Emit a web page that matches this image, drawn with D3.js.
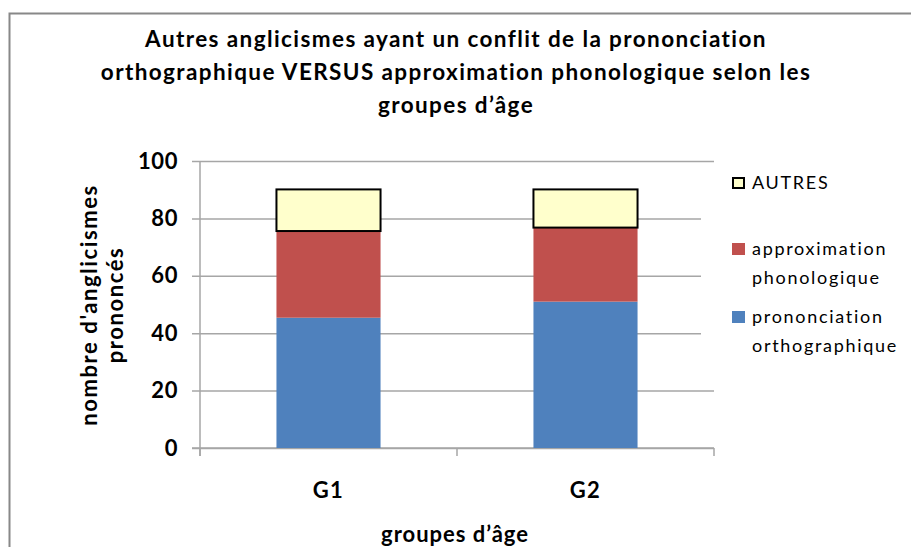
<!DOCTYPE html>
<html>
<head>
<meta charset="utf-8">
<script src="https://cdn.jsdelivr.net/npm/d3@7"></script>
<style>
  body { margin: 0; background: #fff; }
  text { font-family: Lato, "Open Sans", sans-serif; fill: #000; }
</style>
</head>
<body>
<svg id="chart" width="911" height="547"></svg>
<script>
const groups = ["G1", "G2"];
const seriesNames = ["prononciation orthographique", "approximation phonologique", "AUTRES"];
const prononciation = [45.4, 51];
const approximation = [30.2, 25.8];
const autres = [14.5, 13.3];
const yTicks = [0, 20, 40, 60, 80, 100];

const colors = ["#4F81BD", "#C0504D", "#FFFFCC"];

const svg = d3.select("#chart");

// Chart border
svg.append("rect")
  .attr("x", 9.5).attr("y", 13.5)
  .attr("width", 920).attr("height", 560)
  .attr("fill", "white")
  .attr("stroke", "#888")
  .attr("stroke-width", 2);

const margin = { left: 200, top: 161, right: 714, bottom: 448 };
const width = margin.right - margin.left;
const height = margin.bottom - margin.top;

const g = svg.append("g").attr("transform", `translate(${margin.left},${margin.top})`);

const x = d3.scaleBand().domain(groups).range([0, width]).paddingInner(0.595).paddingOuter(0.2975);
const y = d3.scaleLinear().domain([0, 100]).range([height, 0]);

// Gridlines + y axis labels
const yAxis = g.append("g")
  .call(d3.axisLeft(y).tickValues(yTicks).tickSize(0).tickPadding(22));
yAxis.select(".domain").remove();
yAxis.selectAll(".tick line")
  .attr("x1", -8).attr("x2", width)
  .attr("stroke", "#A6A6A6").attr("stroke-width", 1.5);
yAxis.selectAll(".tick text")
  .attr("font-size", 22).attr("font-weight", "bold")
  .attr("letter-spacing", 0.6)
  .attr("font-family", "Lato, sans-serif").attr("fill", "#000");

// y axis line
g.append("line")
  .attr("x1", 0).attr("x2", 0).attr("y1", 0).attr("y2", height + 8)
  .attr("stroke", "#A6A6A6").attr("stroke-width", 1.5);

// x axis line and ticks at band edges
g.append("line")
  .attr("x1", -8).attr("x2", width).attr("y1", height).attr("y2", height)
  .attr("stroke", "#A6A6A6").attr("stroke-width", 1.5);
g.selectAll(".xtick")
  .data(d3.range(groups.length + 1))
  .join("line")
  .attr("class", "xtick")
  .attr("x1", (i) => i * x.step()).attr("x2", (i) => i * x.step())
  .attr("y1", height).attr("y2", height + 8)
  .attr("stroke", "#A6A6A6").attr("stroke-width", 1.5);

// x labels
g.selectAll(".xlabel")
  .data(groups)
  .join("text")
  .attr("class", "xlabel")
  .attr("x", (d) => x(d) + x.bandwidth() / 2)
  .attr("y", height + 50)
  .attr("text-anchor", "middle")
  .attr("font-size", 22).attr("font-weight", "bold")
  .attr("letter-spacing", 1.5)
  .text((d) => d);

// Legend background (hides gridlines behind it)
svg.append("rect")
  .attr("x", 701).attr("y", 175)
  .attr("width", 200).attr("height", 190)
  .attr("fill", "white");

// Stacked bars
const table = groups.map((grp, i) => ({
  group: grp,
  s0: prononciation[i],
  s1: approximation[i],
  s2: autres[i],
}));
const stacked = d3.stack().keys(["s0", "s1", "s2"])(table);

g.selectAll(".series")
  .data(stacked)
  .join("g")
  .attr("class", "series")
  .attr("fill", (d, i) => colors[i])
  .attr("stroke", (d, i) => (i === 2 ? "#000" : "none"))
  .attr("stroke-width", 2)
  .selectAll("rect")
  .data((d) => d)
  .join("rect")
  .attr("x", (d) => x(d.data.group))
  .attr("y", (d) => y(d[1]))
  .attr("width", x.bandwidth())
  .attr("height", (d) => y(d[0]) - y(d[1]));

// Legend
const legendItems = [
  { color: colors[2], stroke: true, lines: ["AUTRES"], y: 189 },
  { color: colors[1], stroke: false, lines: ["approximation", "phonologique"], y: 255 },
  { color: colors[0], stroke: false, lines: ["prononciation", "orthographique"], y: 323 },
];
const legend = svg.append("g");
legendItems.forEach((it) => {
  legend.append("rect")
    .attr("x", it.stroke ? 733 : 732).attr("y", it.y - (it.stroke ? 11 : 12))
    .attr("width", it.stroke ? 11 : 13).attr("height", it.stroke ? 10 : 12)
    .attr("fill", it.color)
    .attr("stroke", it.stroke ? "#000" : "none")
    .attr("stroke-width", 2);
  const t = legend.append("text")
    .attr("x", 752).attr("y", it.y)
    .attr("font-size", 18)
    .attr("letter-spacing", 1.7);
  it.lines.forEach((ln, j) => {
    t.append("tspan").attr("x", 752).attr("dy", j === 0 ? 0 : 28.5).text(ln);
  });
});

// Title
const titleLines = [
  "Autres anglicismes ayant un conflit de la prononciation",
  "orthographique VERSUS approximation phonologique selon les",
  "groupes d\u2019\u00e2ge",
];
svg.append("text")
  .attr("x", 456).attr("y", 47)
  .attr("text-anchor", "middle")
  .attr("font-size", 22.5).attr("font-weight", "bold")
  .attr("letter-spacing", 1.4)
  .selectAll("tspan")
  .data(titleLines)
  .join("tspan")
  .attr("x", 456)
  .attr("dy", (d, i) => (i === 0 ? 0 : 33))
  .text((d) => d);

// Y axis title
svg.append("text")
  .attr("transform", "translate(97,305) rotate(-90)")
  .attr("text-anchor", "middle")
  .attr("font-size", 22).attr("font-weight", "bold")
  .attr("letter-spacing", 1.6)
  .selectAll("tspan")
  .data(["nombre d'anglicismes", "prononcés"])
  .join("tspan")
  .attr("x", 0)
  .attr("dy", (d, i) => (i === 0 ? 0 : 26))
  .text((d) => d);

// X axis title
svg.append("text")
  .attr("x", 455).attr("y", 542)
  .attr("text-anchor", "middle")
  .attr("font-size", 22).attr("font-weight", "bold")
  .attr("letter-spacing", 1.0)
  .text("groupes d\u2019\u00e2ge");
</script>
</body>
</html>
